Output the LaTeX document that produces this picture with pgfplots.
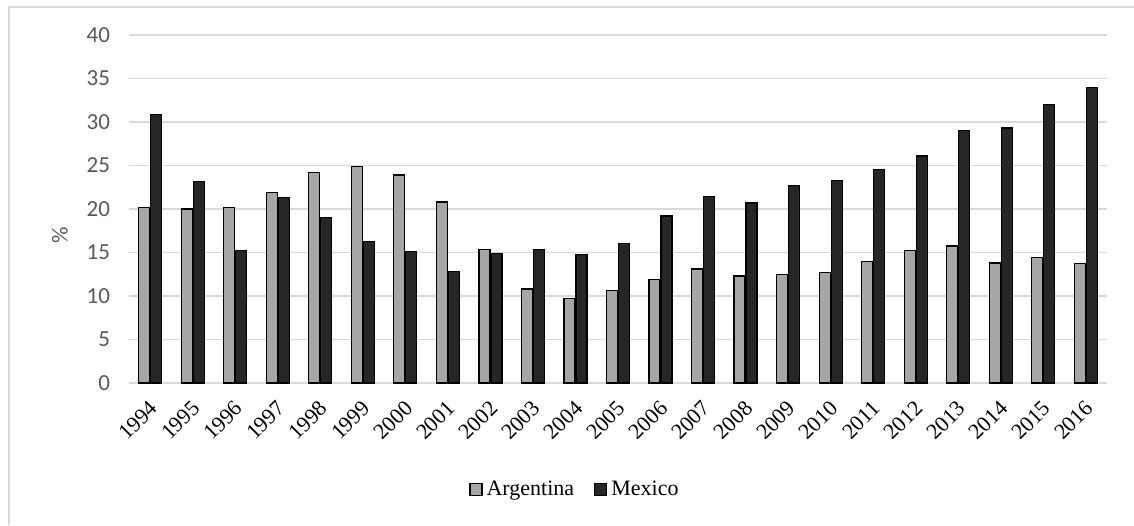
\documentclass[border=0pt]{standalone}
\usepackage{pgfplots}
\usepackage{pgfplotstable}
\pgfplotsset{compat=1.18}
\usepackage{fontspec}
\setmainfont{Liberation Serif}
\newfontfamily\calibri{Carlito}
\definecolor{argfill}{HTML}{A6A6A6}
\definecolor{mexfill}{HTML}{262626}
\definecolor{gridgray}{HTML}{D9D9D9}
\definecolor{ticktext}{HTML}{595959}

% share (%) by year: Argentina and Mexico
\pgfplotstableread{
idx arg  mex
0   20.2 30.9
1   20.0 23.2
2   20.2 15.2
3   21.9 21.3
4   24.2 19.0
5   24.9 16.3
6   23.9 15.1
7   20.8 12.8
8   15.35 14.9
9   10.8 15.35
10  9.7  14.8
11  10.65 16.0
12  11.9 19.2
13  13.1 21.4
14  12.3 20.7
15  12.45 22.7
16  12.7 23.3
17  14.0 24.55
18  15.25 26.1
19  15.75 29.0
20  13.8 29.3
21  14.45 32.0
22  13.7 34.0
}\shares

\begin{document}
\begin{tikzpicture}
\path[use as bounding box] (0pt,0pt) rectangle (567pt,262.5pt);
\draw[gridgray, line width=0.6pt] (4.5pt,0pt) -- (4.5pt,259pt) -- (567pt,259pt);
\begin{axis}[
  at={(64.5pt,71pt)}, anchor=south west,
  scale only axis, width=489pt, height=174pt,
  xmin=-0.5, xmax=22.5, ymin=0, ymax=40,
  ytick={0,5,...,40},
  xtick={0,...,22},
  xticklabels={1994,1995,1996,1997,1998,1999,2000,2001,2002,2003,2004,2005,2006,2007,2008,2009,2010,2011,2012,2013,2014,2015,2016},
  axis line style={draw=none},
  major tick length=0pt,
  ymajorgrids,
  grid style={gridgray, line width=0.65pt},
  /pgf/number format/assume math mode=true,
  yticklabel style={font=\calibri\fontsize{11.5}{13}\selectfont, text=ticktext, xshift=-6pt},
  xticklabel style={font=\fontsize{11}{13}\selectfont, xshift=2.5pt, yshift=-10pt, rotate=45, anchor=east, inner sep=1pt},
  ylabel={\%},
  ylabel style={font=\calibri\fontsize{11.5}{13}\selectfont, text=ticktext, at={(axis description cs:-0.0706,0.425)}, anchor=center},
  ybar, bar width=5.5pt,
  legend style={at={(axis description cs:0.457,-0.307)}, anchor=center, draw=none, fill=none,
    legend columns=2, font=\fontsize{11}{13}\selectfont,
    /tikz/every even column/.append style={column sep=8pt}},
  legend image code/.code={\draw[#1, line width=0.6pt, draw=black] (0pt,-3pt) rectangle (6pt,3pt);},
]
\addplot[fill=argfill, draw=black, line width=0.6pt, bar shift=-3pt] table[x=idx, y=arg] {\shares};
\addplot[fill=mexfill, draw=black, line width=0.6pt, bar shift=3pt] table[x=idx, y=mex] {\shares};
\legend{Argentina, Mexico}
\end{axis}
\end{tikzpicture}
\end{document}
